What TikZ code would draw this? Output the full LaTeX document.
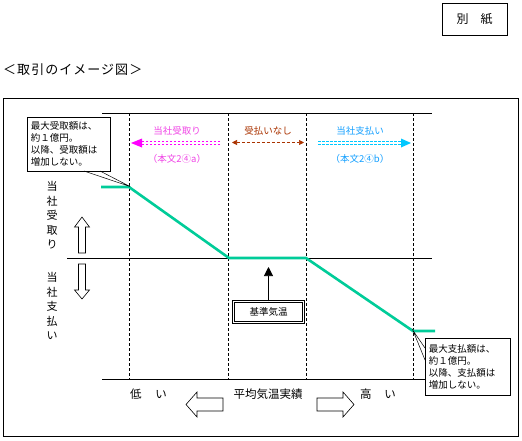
\documentclass[tikz,border=0pt]{standalone}
\usepackage{fontspec}
\setmainfont{Noto Sans CJK JP}
\newfontfamily\titlefont[LetterSpace=8]{Noto Sans CJK JP}
\usetikzlibrary{arrows.meta}
\definecolor{lgreen}{RGB}{0,204,153}
\definecolor{magtext}{RGB}{240,70,230}
\definecolor{magarrow}{RGB}{255,0,255}
\definecolor{brn}{RGB}{170,51,0}
\definecolor{cyntext}{RGB}{20,160,255}
\definecolor{cynarrow}{RGB}{0,200,255}
\tikzset{
  frameline/.style={line width=0.8pt},
  vdash/.style={dashed, dash pattern=on 3pt off 2pt, line width=0.6pt},
  callout/.style={draw, fill=white, line width=0.6pt, anchor=north west, align=left, inner sep=3pt,
    font=\fontsize{9.5}{12}\selectfont},
  vtext/.style={align=center, font=\fontsize{11}{14.5}\selectfont},
  toplabel/.style={font=\fontsize{9.5}{11}\selectfont},
  botlabel/.style={font=\fontsize{11.5}{13}\selectfont},
  hollow/.style={draw, fill=white, line width=0.6pt},
  dd/.style={line width=0.7pt, dash pattern=on 2.5pt off 1.5pt},
}
\begin{document}
\begin{tikzpicture}[x=1pt,y=-1pt, every node/.style={inner sep=0pt}]
\useasboundingbox (0,0) rectangle (522,440);
\fill[white] (0,0) rectangle (522,440);
% outer frame and title
\draw[frameline] (3,98) rectangle (518,436);
\node[draw, frameline, minimum width=65pt, minimum height=32pt, font=\fontsize{12}{14}\selectfont] (bessi) at (474.5,19) {別\hspace{1em}紙};
\node[anchor=west, font=\titlefont\fontsize{13}{15}\selectfont] (title) at (3,70) {＜取引のイメージ図＞};
% axes
\draw[line width=0.7pt] (102,113) -- (432,113);
\foreach \x in {129,228,306,413} \draw[vdash] (\x,113) -- (\x,379);
\draw[line width=0.7pt] (67,258) -- (432,258);
\draw[line width=0.7pt] (102,379) -- (432,379);
% green line
\draw[lgreen, line width=2.6pt] (101,187) -- (129,187) -- (229,258) -- (306,258) -- (413,331) -- (435,331);
% left callout
\node[callout, minimum width=83pt, minimum height=54pt, text width=76pt] (boxL) at (27,117) {最大受取額は、\\約１億円。\\以降、受取額は\\増加しない。};
\coordinate (tipL) at (130,186.5);
\draw[line width=0.5pt] (84,171) -- (tipL) -- (100,171);
% right callout
\node[callout, minimum width=85pt, minimum height=57pt, text width=78pt] (boxR) at (425,338) {最大支払額は、\\約１億円。\\以降、支払額は\\増加しない。};
\coordinate (tipR) at (413,330.5);
\draw[line width=0.5pt] (425,348) -- (tipR) -- (425,360);
% vertical labels
\node[vtext] (vup) at (52,215.5) {当\\社\\受\\取\\り};
\node[vtext] (vdn) at (52,306) {当\\社\\支\\払\\い};
% hollow vertical arrows
\draw[hollow] (78.5,253) -- (78.5,227) -- (74.5,227) -- (82,217) -- (89.5,227) -- (85.5,227) -- (85.5,253) -- cycle;
\draw[hollow] (78.5,264) -- (78.5,290) -- (74.5,290) -- (82,299) -- (89.5,290) -- (85.5,290) -- (85.5,264) -- cycle;
% top labels
\node[toplabel, text=magtext] (lab1) at (177,131) {当社受取り};
\node[toplabel, text=magtext] (ref1) at (177,159) {（本文2④a）};
\node[toplabel, text=brn] (lab2) at (268,131) {受払いなし};
\node[toplabel, text=cyntext] (lab3) at (360,131) {当社支払い};
\node[toplabel, text=cyntext] (ref3) at (360,159) {（本文2④b）};
% magenta double dashed arrow
\coordinate (m1) at (220,143); \coordinate (m2) at (131,143);
\draw[magarrow, dd] (220,141.5) -- (141,141.5);
\draw[magarrow, dd] (220,144.5) -- (141,144.5);
\fill[magarrow] (m2) -- (142,138.5) -- (142,147.5) -- cycle;
% brown arrow
\coordinate (b1) at (232,142.5); \coordinate (b2) at (304,142.5);
\draw[brn, line width=0.7pt, dash pattern=on 3pt off 2pt, {Triangle[length=5pt,width=5pt]}-{Triangle[length=5pt,width=5pt]}] (b1) -- (b2);
% cyan double dashed arrow
\coordinate (c1) at (318,143); \coordinate (c2) at (411,143);
\draw[cynarrow, dd] (318,141.5) -- (402,141.5);
\draw[cynarrow, dd] (318,144.5) -- (402,144.5);
\fill[cynarrow] (c2) -- (401,138.5) -- (401,147.5) -- cycle;
% reference temperature
\node[draw, double, double distance=1.3pt, line width=0.5pt, minimum width=70pt, minimum height=21pt,
  font=\fontsize{9.5}{11}\selectfont] (kijun) at (268.5,312) {基準気温};
\coordinate (kt) at (268.5,267);
\draw[line width=0.6pt, -{Triangle[length=9pt,width=9pt]}] (kijun.north) -- (kt);
% bottom labels
\node[botlabel] (low) at (148.5,394) {低\hspace{1.2em}い};
\node[botlabel] (avg) at (268,394) {平均気温実績};
\node[botlabel] (high) at (378,394) {高\hspace{1.1em}い};
\draw[hollow] (223,398) -- (197,398) -- (197,392) -- (186,404.5) -- (197,417) -- (197,411) -- (223,411) -- cycle;
\draw[hollow] (317,398) -- (343,398) -- (343,392) -- (354,404.5) -- (343,417) -- (343,411) -- (317,411) -- cycle;
\end{tikzpicture}
\end{document}
